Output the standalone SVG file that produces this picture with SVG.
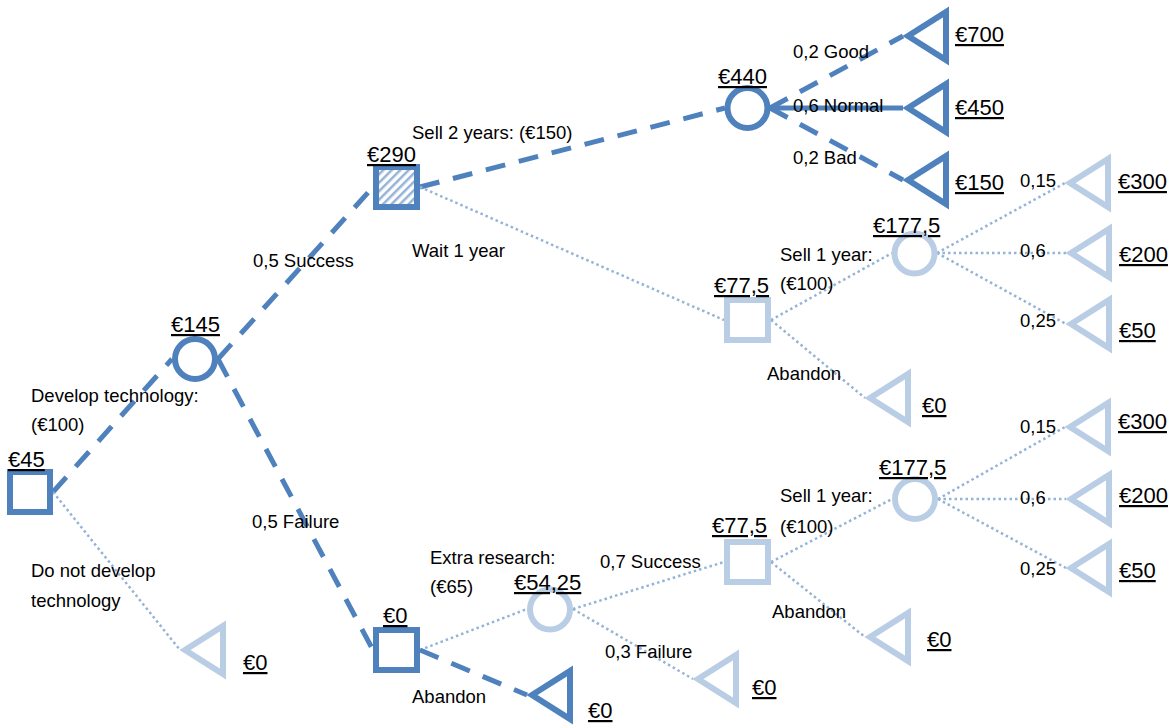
<svg xmlns="http://www.w3.org/2000/svg" width="1172" height="725" viewBox="0 0 1172 725">
  <style>
    text { font-family: "Liberation Sans", Arial, sans-serif; fill: #000; }
    .lbl { font-size: 18.5px; }
    .val { font-size: 22px; text-decoration: underline; }
    .dash { fill: none; stroke: #4F81BD; stroke-width: 5; stroke-dasharray: 20 14; }
    .solid { fill: none; stroke: #4F81BD; stroke-width: 5; }
    .dot { fill: none; stroke: #95B3D7; stroke-width: 2.5; stroke-dasharray: 2.5 3; }
    .dk { fill: #fff; stroke: #4F81BD; stroke-width: 6; }
    .lt { fill: #fff; stroke: #B9CDE5; stroke-width: 6; }
    .hatch { fill: url(#hatch); stroke: #4F81BD; stroke-width: 6; }
  </style>
  <defs>
    <pattern id="hatch" width="6" height="6" patternUnits="userSpaceOnUse" patternTransform="rotate(45)">
      <rect width="6" height="6" fill="#fff"/>
      <rect width="2.5" height="6" fill="#95B3D7"/>
    </pattern>
    <!-- end node: triangle, apex on the left at the origin -->
    <path id="tri" d="M0,0 L38,-24 L38,24 Z"/>
  </defs>

  <g id="connectors">
    <!-- decision: develop / do not develop -->
    <line class="dash" x1="53" y1="492" x2="172" y2="359"/>
    <line class="dot" x1="53" y1="492" x2="180" y2="650"/>
    <!-- chance: success / failure -->
    <line class="dash" x1="218" y1="359" x2="373" y2="187"/>
    <line class="dash" x1="218" y1="359" x2="373" y2="650"/>
    <!-- decision after success -->
    <line class="dash" x1="420" y1="187" x2="725" y2="108"/>
    <line class="dot" x1="420" y1="187" x2="724" y2="320"/>
    <!-- market outcomes, sell 2 years -->
    <line class="dash" x1="770" y1="108" x2="903" y2="36"/>
    <line class="solid" x1="770" y1="108" x2="903" y2="108"/>
    <line class="dash" x1="770" y1="108" x2="903" y2="180"/>
    <!-- wait 1 year branch -->
    <line class="dot" x1="771" y1="320" x2="892" y2="253"/>
    <line class="dot" x1="771" y1="320" x2="865" y2="398"/>
    <line class="dot" x1="937" y1="253" x2="1065" y2="183"/>
    <line class="dot" x1="937" y1="253" x2="1066" y2="253"/>
    <line class="dot" x1="937" y1="253" x2="1066" y2="324"/>
    <!-- decision after failure -->
    <line class="dot" x1="420" y1="650" x2="527" y2="609"/>
    <line class="dash" x1="420" y1="650" x2="527" y2="695"/>
    <!-- extra research outcomes -->
    <line class="dot" x1="573" y1="609" x2="724" y2="562"/>
    <line class="dot" x1="573" y1="609" x2="693" y2="679"/>
    <!-- sell 1 year after research -->
    <line class="dot" x1="771" y1="562" x2="892" y2="499"/>
    <line class="dot" x1="771" y1="562" x2="865" y2="637"/>
    <line class="dot" x1="938" y1="499" x2="1065" y2="427"/>
    <line class="dot" x1="938" y1="499" x2="1066" y2="499"/>
    <line class="dot" x1="938" y1="499" x2="1066" y2="568"/>
  </g>

  <!-- decision nodes -->
  <g id="d-develop"><rect class="dk" x="10" y="472" width="40" height="40"/><text class="val" x="8" y="467">€45</text></g>
  <g id="d-success"><rect class="hatch" x="376" y="167" width="41" height="40"/><text class="val" x="367" y="162">€290</text></g>
  <g id="d-failure"><rect class="dk" x="376" y="630" width="41" height="40"/><text class="val" x="383" y="623">€0</text></g>
  <g id="d-wait"><rect class="lt" x="727" y="300" width="41" height="40"/><text class="val" x="714" y="293">€77,5</text></g>
  <g id="d-research"><rect class="lt" x="727" y="542" width="41" height="40"/><text class="val" x="712" y="533">€77,5</text></g>

  <!-- chance nodes -->
  <g id="c-tech"><circle class="dk" cx="195" cy="359" r="20"/><text class="val" x="171" y="332">€145</text></g>
  <g id="c-sell2"><circle class="dk" cx="747.5" cy="108" r="20"/><text class="val" x="718" y="84">€440</text></g>
  <g id="c-sell1a"><circle class="lt" cx="914.5" cy="253.5" r="20"/><text class="val" x="873" y="233">€177,5</text></g>
  <g id="c-research"><circle class="lt" cx="550" cy="609.5" r="20"/><text class="val" x="514" y="590">€54,25</text></g>
  <g id="c-sell1b"><circle class="lt" cx="915" cy="499" r="20"/><text class="val" x="879" y="475">€177,5</text></g>

  <!-- end nodes -->
  <g id="e-good"><use href="#tri" class="dk" x="908" y="36"/><text class="val" x="955" y="42">€700</text></g>
  <g id="e-normal"><use href="#tri" class="dk" x="908" y="108"/><text class="val" x="955" y="115">€450</text></g>
  <g id="e-bad"><use href="#tri" class="dk" x="908" y="180"/><text class="val" x="955" y="190">€150</text></g>
  <g id="e-none"><use href="#tri" class="lt" x="185" y="650"/><text class="val" x="243" y="670">€0</text></g>
  <g id="e-abandon1"><use href="#tri" class="lt" x="870" y="398"/><text class="val" x="922" y="413">€0</text></g>
  <g id="e-a300"><use href="#tri" class="lt" x="1070" y="183"/><text class="val" x="1118" y="189">€300</text></g>
  <g id="e-a200"><use href="#tri" class="lt" x="1071" y="253"/><text class="val" x="1119" y="262">€200</text></g>
  <g id="e-a50"><use href="#tri" class="lt" x="1071" y="324"/><text class="val" x="1119" y="338">€50</text></g>
  <g id="e-abandon2"><use href="#tri" class="dk" x="532" y="695"/><text class="val" x="588" y="718">€0</text></g>
  <g id="e-resfail"><use href="#tri" class="lt" x="698" y="679"/><text class="val" x="752" y="695">€0</text></g>
  <g id="e-abandon3"><use href="#tri" class="lt" x="870" y="637"/><text class="val" x="927" y="647">€0</text></g>
  <g id="e-b300"><use href="#tri" class="lt" x="1070" y="427"/><text class="val" x="1118" y="429">€300</text></g>
  <g id="e-b200"><use href="#tri" class="lt" x="1071" y="499"/><text class="val" x="1119" y="503">€200</text></g>
  <g id="e-b50"><use href="#tri" class="lt" x="1071" y="568"/><text class="val" x="1119" y="578">€50</text></g>

  <!-- branch labels -->
  <g id="labels">
    <text class="lbl" x="31" y="402">Develop technology:</text>
    <text class="lbl" x="31" y="431">(€100)</text>
    <text class="lbl" x="31" y="577">Do not develop</text>
    <text class="lbl" x="31" y="607">technology</text>
    <text class="lbl" x="253" y="267">0,5 Success</text>
    <text class="lbl" x="252" y="528">0,5 Failure</text>
    <text class="lbl" x="412" y="139">Sell 2 years: (€150)</text>
    <text class="lbl" x="412" y="257">Wait 1 year</text>
    <text class="lbl" x="793" y="58">0,2 Good</text>
    <text class="lbl" x="793" y="112">0,6 Normal</text>
    <text class="lbl" x="793" y="164">0,2 Bad</text>
    <text class="lbl" x="780" y="261">Sell 1 year:</text>
    <text class="lbl" x="780" y="290">(€100)</text>
    <text class="lbl" x="767" y="380">Abandon</text>
    <text class="lbl" x="1020" y="187">0,15</text>
    <text class="lbl" x="1020" y="257">0,6</text>
    <text class="lbl" x="1020" y="327">0,25</text>
    <text class="lbl" x="1020" y="433">0,15</text>
    <text class="lbl" x="1020" y="504">0,6</text>
    <text class="lbl" x="1020" y="575">0,25</text>
    <text class="lbl" x="780" y="502">Sell 1 year:</text>
    <text class="lbl" x="780" y="533">(€100)</text>
    <text class="lbl" x="772" y="618">Abandon</text>
    <text class="lbl" x="430" y="564">Extra research:</text>
    <text class="lbl" x="430" y="593">(€65)</text>
    <text class="lbl" x="600" y="568">0,7 Success</text>
    <text class="lbl" x="605" y="658">0,3 Failure</text>
    <text class="lbl" x="412" y="703">Abandon</text>
  </g>
</svg>
